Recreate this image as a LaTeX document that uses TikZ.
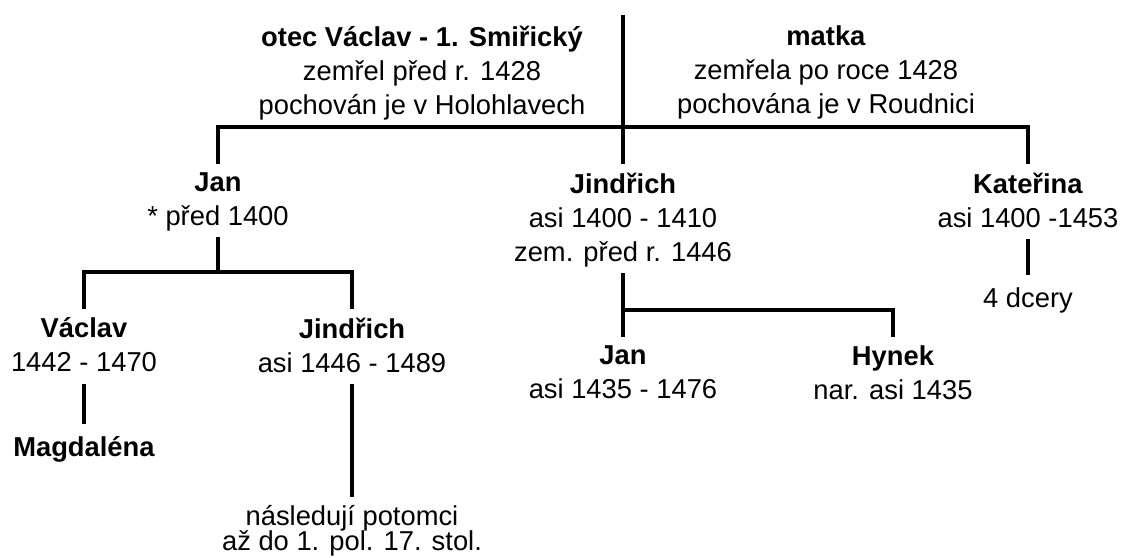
\documentclass[tikz,border=0pt]{standalone}
\usepackage{fontspec}
\setmainfont{Liberation Sans}

\tikzset{every picture/.style={line width=2.6pt}}
\tikzset{
  person/.style={align=center, anchor=north, inner sep=0pt,
    font=\fontsize{20.5}{25.5}\selectfont,
    execute at begin node=\strut, execute at end node=\strut},
  link/.style={shorten >=5pt},
}

\begin{document}
\begin{tikzpicture}[x=0.75pt,y=0.75pt,yscale=-1,xscale=1]
\useasboundingbox (0,0) rectangle (1121,557);

% Parents
\node [person] (otec) at (422,24) {\textbf{otec Václav - 1. Smiřický}\\zemřel před r. 1428\\pochován je v Holohlavech};
\node [person] (matka) at (826,24) {\textbf{matka}\\zemřela po roce 1428\\pochována je v Roudnici};

% Children
\node [person] (jan) at (218,171) {\textbf{Jan}\\* před 1400};
\node [person] (jindrich) at (623,171) {\textbf{Jindřich}\\asi 1400 - 1410\\zem. před r. 1446};
\node [person] (katerina) at (1028,171) {\textbf{Kateřina}\\asi 1400 -1453};

% Grandchildren
\node [person] (vaclav) at (84,316) {\textbf{Václav}\\1442 - 1470};
\node [person] (jindrich2) at (352,316) {\textbf{Jindřich}\\asi 1446 - 1489};
\node [person] (jan2) at (623,344) {\textbf{Jan}\\asi 1435 - 1476};
\node [person] (hynek) at (893,344) {\textbf{Hynek}\\nar. asi 1435};
\node [person] (dcery) at (1028,282) {4 dcery};

% Further descendants
\node [person] (magdalena) at (84,431) {\textbf{Magdaléna}};
\node [person] (potomci) at (352,504) {následují potomci\\[-7pt]až do 1. pol. 17. stol.};

% Junctions
\coordinate (top) at (623,15);
\coordinate (bar) at (623,127);
\coordinate (janbar) at (218,272);
\coordinate (jinbar) at (623,310);

% Connectors
\draw [link] (top) -- (jindrich.north);
\draw [link, shorten <=5pt] (jan.north) |- (bar) -| (katerina.north);
\draw (jan.south) -- (janbar);
\draw [link, shorten <=5pt] (vaclav.north) |- (janbar) -| (jindrich2.north);
\draw [link] (jindrich.south) -- (jan2.north);
\draw [link] (jinbar) -| (hynek.north);
\draw [link] (katerina.south) -- (dcery.north);
\draw [link] (vaclav.south) -- (magdalena.north);
\draw [link] (jindrich2.south) -- (potomci.north);

\end{tikzpicture}
\end{document}
